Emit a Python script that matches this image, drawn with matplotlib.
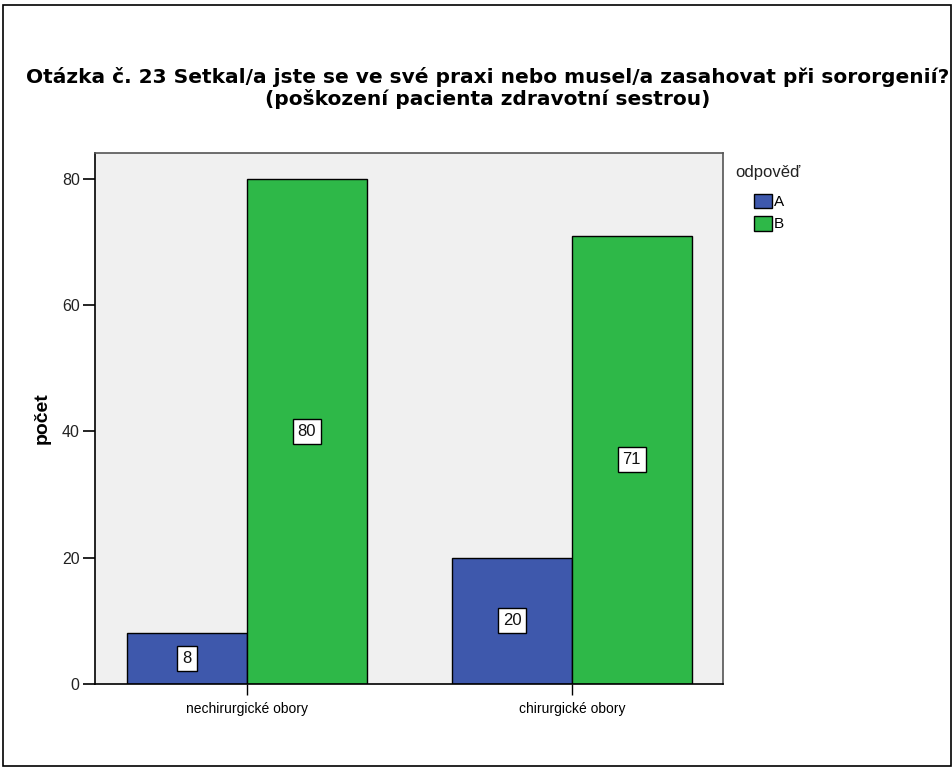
import matplotlib
matplotlib.use("Agg")
import matplotlib.pyplot as plt
import numpy as np
from matplotlib.patches import Rectangle

categories = ["nechirurgické obory", "chirurgické obory"]
series_names = ["A", "B"]
values_A = [8, 20]
values_B = [80, 71]
yticks = [0, 20, 40, 60, 80]
colors = ["#3E58AC", "#2EB848"]

plt.rcParams['font.family'] = ['Liberation Sans', 'DejaVu Sans']

fig = plt.figure(figsize=(9.53, 7.67), dpi=100)
fig.patch.set_facecolor("white")
ax = fig.add_axes([95/953, 1-684/767, (723-95)/953, (684-153)/767])
ax.set_facecolor("#F0F0F0")

x = np.arange(len(categories))
w = 0.369
for i, (vals, name) in enumerate(zip([values_A, values_B], series_names)):
    pos = x + (i - 0.5) * w
    ax.bar(pos, vals, width=w, color=colors[i], edgecolor="black", linewidth=1.0, label=name, zorder=2)
    for p, v in zip(pos, vals):
        ax.text(p, v / 2, str(v), ha="center", va="center", fontsize=12, color="#111111",
                bbox=dict(boxstyle="square,pad=0.3", facecolor="white", edgecolor="black", linewidth=1.0), zorder=3)

ax.set_xlim(-0.468, 1.465)
ax.set_ylim(0, 84.1)
ax.set_xticks(x)
ax.set_xticklabels(categories, fontsize=10)
ax.set_yticks(yticks)
ax.set_yticklabels([str(t) for t in yticks], fontsize=11.5)
ax.tick_params(axis="y", length=9, width=1.2, pad=2, colors="black", labelcolor="#222222")
ax.tick_params(axis="x", length=8, width=1.0, pad=5)
for s in ax.spines.values():
    s.set_color("#555555")
    s.set_linewidth(1.2)
ax.spines["left"].set_color("black")
ax.spines["bottom"].set_color("black")
ax.set_ylabel("počet", fontsize=14, fontweight="bold", labelpad=8)

title_font = ['DejaVu Sans']
fig.text(488/953, 1-77/767, "Otázka č. 23 Setkal/a jste se ve své praxi nebo musel/a zasahovat při sororgenií?",
         ha="center", va="center", fontsize=14.5, fontweight="bold", family=title_font)
fig.text(488/953, 1-99/767, "(poškození pacienta zdravotní sestrou)",
         ha="center", va="center", fontsize=14.5, fontweight="bold", family=title_font)

fig.text(735/953, 1-173/767, "odpověď", ha="left", va="center", fontsize=12, color="#222222")
leg = fig.legend(loc="upper left", bbox_to_anchor=(752/953, 1-192/767),
                 frameon=False, fontsize=11, handlelength=1.2, handleheight=1.1,
                 handletextpad=0.15, labelspacing=0.45, borderaxespad=0, borderpad=0.1)
for h in leg.legend_handles:
    h.set_edgecolor("black")
    h.set_linewidth(1.0)

fig.patches.append(Rectangle((3/953, 0.001), 948/953, 1-5/767-0.001, transform=fig.transFigure,
                             fill=False, edgecolor="black", linewidth=1.2))

fig.savefig("out.png", dpi=100)
